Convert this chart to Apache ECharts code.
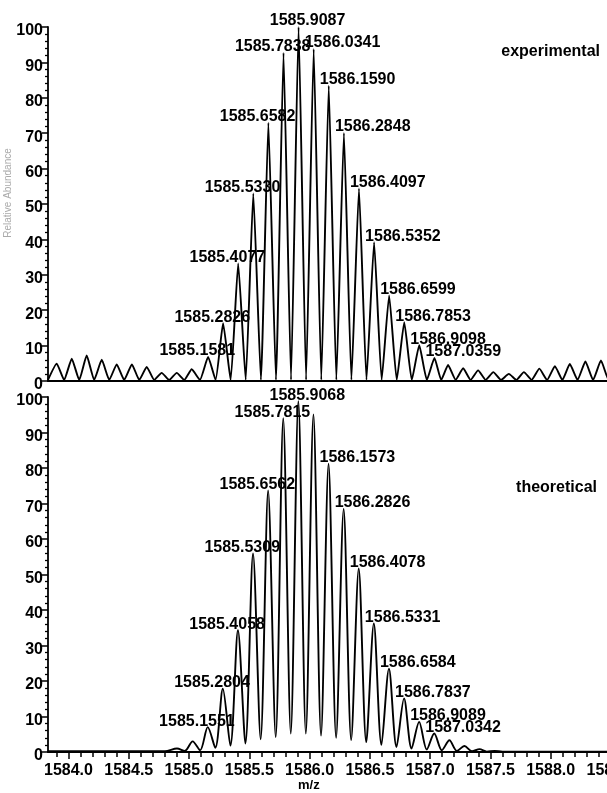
<!DOCTYPE html>
<html><head><meta charset="utf-8">
<script src="https://cdn.jsdelivr.net/npm/echarts@6/dist/echarts.min.js"></script>
<style>html,body{margin:0;padding:0;background:#fff}#c{width:607px;height:793px}</style>
</head><body><div id="c"></div>
<script>
// ---------- data ----------
// experimental profile (m/z, relative intensity), apexes and valleys
const expProfileMz = [
  1583.830, 1583.902, 1583.964, 1584.027, 1584.089, 1584.151, 1584.213, 1584.276, 1584.338, 1584.400,
  1584.462, 1584.526, 1584.587, 1584.649, 1584.711, 1584.773, 1584.835, 1584.898, 1584.960, 1585.022,
  1585.090, 1585.1581, 1585.220, 1585.2826, 1585.345, 1585.4077, 1585.470, 1585.5330, 1585.596, 1585.6582,
  1585.721, 1585.7838, 1585.846, 1585.9087, 1585.971, 1586.0341, 1586.097, 1586.1590, 1586.222, 1586.2848,
  1586.347, 1586.4097, 1586.472, 1586.5352, 1586.598, 1586.6599, 1586.723, 1586.7853, 1586.848, 1586.9098,
  1586.973, 1587.0359, 1587.092, 1587.149, 1587.212, 1587.274, 1587.336, 1587.398, 1587.461, 1587.524,
  1587.588, 1587.653, 1587.716, 1587.778, 1587.842, 1587.906, 1587.970, 1588.035, 1588.097, 1588.159,
  1588.223, 1588.288, 1588.352, 1588.417, 1588.480, 1588.540, 1588.600
];
const expProfileInt = [
  0.3, 4.9, 0.3, 6.3, 0.3, 7.2, 0.3, 6.0, 0.3, 4.7,
  0.3, 4.7, 0.3, 4.0, 0.3, 2.3, 0.3, 2.3, 0.3, 3.3,
  0.3, 6.8, 0.3, 16.3, 0.3, 33.2, 0.3, 53.0, 0.3, 73.0,
  0.3, 92.7, 0.3, 100, 0.3, 93.8, 0.3, 83.4, 0.3, 70.1,
  0.3, 54.4, 0.3, 39.2, 0.3, 24.2, 0.3, 16.6, 0.3, 10.1,
  0.3, 6.5, 0.3, 4.5, 0.3, 3.6, 0.3, 3.0, 0.3, 2.5,
  0.3, 2.0, 0.3, 2.5, 0.3, 3.5, 0.3, 4.2, 0.3, 4.8,
  0.3, 5.5, 0.3, 5.8, 0.3, 5.5, 0.3
];
// labelled experimental peaks
const expPeakMz  = [1585.1581, 1585.2826, 1585.4077, 1585.5330, 1585.6582, 1585.7838, 1585.9087, 1586.0341,
                    1586.1590, 1586.2848, 1586.4097, 1586.5352, 1586.6599, 1586.7853, 1586.9098, 1587.0359];
const expPeakInt = [6.8, 16.3, 33.2, 53.0, 73.0, 92.7, 100, 93.8, 83.4, 70.1, 54.4, 39.2, 24.2, 16.6, 10.1, 6.5];

// theoretical profile
const theoProfileMz = [
  1583.830, 1584.800, 1584.900, 1584.965, 1585.030, 1585.092, 1585.1551, 1585.218, 1585.2804, 1585.343,
  1585.4058, 1585.468, 1585.5309, 1585.594, 1585.6562, 1585.719, 1585.7815, 1585.844, 1585.9068, 1585.969,
  1586.0320, 1586.095, 1586.1573, 1586.220, 1586.2826, 1586.345, 1586.4078, 1586.470, 1586.5331, 1586.596,
  1586.6584, 1586.721, 1586.7837, 1586.846, 1586.9089, 1586.972, 1587.0342, 1587.097, 1587.160, 1587.222,
  1587.285, 1587.347, 1587.410, 1587.470, 1587.535, 1587.600, 1588.600
];
const theoProfileInt = [
  0.2, 0.2, 1.0, 0.3, 3.0, 0.5, 7.0, 1.2, 17.8, 1.8,
  34.3, 2.4, 55.9, 3.6, 73.7, 4.2, 94.0, 5.2, 98.8, 5.2,
  95.1, 4.6, 81.2, 4.0, 68.5, 3.4, 51.7, 2.8, 36.2, 2.0,
  23.5, 1.4, 15.1, 1.0, 8.5, 0.7, 5.2, 0.5, 3.3, 0.3,
  1.7, 0.2, 0.8, 0.1, 0.3, 0.1, 0.1
];
const theoPeakMz  = [1585.1551, 1585.2804, 1585.4058, 1585.5309, 1585.6562, 1585.7815, 1585.9068,
                     1586.1573, 1586.2826, 1586.4078, 1586.5331, 1586.6584, 1586.7837, 1586.9089, 1587.0342];
const theoPeakInt = [7.0, 17.8, 34.3, 55.9, 73.7, 94.0, 98.8, 81.2, 68.5, 51.7, 36.2, 23.5, 15.1, 8.5, 5.2];

// axis ticks / labels
const xLabelValues = [1584.0, 1584.5, 1585.0, 1585.5, 1586.0, 1586.5, 1587.0, 1587.5, 1588.0, 1588.5];
const xMinorValues = [1583.9, 1584.1, 1584.2, 1584.3, 1584.4, 1584.6, 1584.7, 1584.8, 1584.9, 1585.1,
                      1585.2, 1585.3, 1585.4, 1585.6, 1585.7, 1585.8, 1585.9, 1586.1, 1586.2, 1586.3,
                      1586.4, 1586.6, 1586.7, 1586.8, 1586.9, 1587.1, 1587.2, 1587.3, 1587.4, 1587.6,
                      1587.7, 1587.8, 1587.9, 1588.1, 1588.2, 1588.3, 1588.4, 1588.6];
const panelNames = ['experimental', 'theoretical'];
const xAxisTitle = 'm/z';
const yAxisTitle = 'Relative Abundance';

// ---------- chart ----------
const FONT = 'Liberation Sans, Arial, sans-serif';
const X_MIN = 1583.83, X_MAX = 1588.6;
const zip = (a, b) => a.map((v, i) => [v, b[i]]);

function peakLabels(mz, inten) {
  let maxI = 0;
  inten.forEach((v, i) => { if (v > inten[maxI]) maxI = i; });
  return mz.map((m, i) => {
    let align = 'center', off = [9, 2];
    if (i < maxI) { align = 'right'; off = [27, 2]; }
    else if (i > maxI) { align = 'left'; off = [-9, 2]; }
    return { value: [m, inten[i]], label: { align: align, offset: off } };
  });
}

const yAxisCommon = {
  type: 'value', min: 0, max: 100, interval: 10,
  axisLine: { show: true, lineStyle: { color: '#000', width: 1.8 } },
  axisTick: { show: true, length: 6, lineStyle: { color: '#000', width: 1.5 } },
  minorTick: { show: true, splitNumber: 5, length: 3, lineStyle: { color: '#000', width: 1.3 } },
  splitLine: { show: false },
  axisLabel: { color: '#000', fontFamily: FONT, fontSize: 16, fontWeight: 'bold', margin: 5,
               verticalAlign: 'top', lineHeight: 8 }
};

const labelStyle = { show: true, position: 'top', distance: 0, color: '#000', opacity: 1, fontFamily: FONT,
                     fontSize: 16, fontWeight: 'bold', formatter: p => p.value[0].toFixed(4) };

const chart = echarts.init(document.getElementById('c'), null, { renderer: 'canvas' });
chart.setOption({
  backgroundColor: '#fff',
  animation: false,
  grid: [
    { left: 48, top: 27, height: 354, right: -16, outerBoundsMode: 'none', containLabel: false },
    { left: 48, top: 397, height: 355, right: -16, outerBoundsMode: 'none', containLabel: false }
  ],
  xAxis: [
    { type: 'value', gridIndex: 0, min: X_MIN, max: X_MAX,
      axisLine: { show: true, lineStyle: { color: '#000', width: 1.8 } },
      axisTick: { show: false }, axisLabel: { show: false }, splitLine: { show: false } },
    { type: 'value', gridIndex: 1, min: X_MIN, max: X_MAX,
      axisLine: { show: true, onZero: false, lineStyle: { color: '#000', width: 1.8 } },
      axisTick: { show: true, length: 7, customValues: xLabelValues, lineStyle: { color: '#000', width: 1.5 } },
      axisLabel: { show: true, customValues: xLabelValues, formatter: v => v.toFixed(1), color: '#000',
                   fontFamily: FONT, fontSize: 16, fontWeight: 'bold', margin: 11, hideOverlap: false },
      splitLine: { show: false } },
    { type: 'value', gridIndex: 1, min: X_MIN, max: X_MAX, position: 'bottom',
      axisLine: { show: false },
      axisTick: { show: true, length: 5, customValues: xMinorValues, lineStyle: { color: '#000', width: 1.5 } },
      axisLabel: { show: false }, splitLine: { show: false } }
  ],
  yAxis: [
    Object.assign({ gridIndex: 0 }, yAxisCommon),
    Object.assign({ gridIndex: 1 }, yAxisCommon)
  ],
  title: [
    { text: panelNames[0], right: 7, top: 44, padding: 0, textStyle: { fontFamily: FONT, fontSize: 16, fontWeight: 'bold', color: '#000' } },
    { text: panelNames[1], right: 10, top: 480, padding: 0, textStyle: { fontFamily: FONT, fontSize: 16, fontWeight: 'bold', color: '#000' } },
    { text: xAxisTitle, left: 298, top: 779, padding: 0, textStyle: { fontFamily: FONT, fontSize: 13, fontWeight: 'bold', color: '#000' } }
  ],
  graphic: [
    { type: 'text', x: 8, y: 193, rotation: Math.PI / 2,
      style: { text: yAxisTitle, fontFamily: FONT, fontSize: 10, fill: '#aaa', align: 'center', verticalAlign: 'middle' } }
  ],
  series: [
    { type: 'line', xAxisIndex: 0, yAxisIndex: 0, data: zip(expProfileMz, expProfileInt),
      symbol: 'none', smooth: 0.15, lineStyle: { color: '#000', width: 1.9 }, z: 3 },
    { type: 'scatter', xAxisIndex: 0, yAxisIndex: 0, data: peakLabels(expPeakMz, expPeakInt),
      symbolSize: 0, itemStyle: { opacity: 1, color: '#000' }, label: labelStyle, z: 4 },
    { type: 'line', xAxisIndex: 1, yAxisIndex: 1, data: zip(theoProfileMz, theoProfileInt),
      symbol: 'none', smooth: 0.3, lineStyle: { color: '#000', width: 1.9 }, z: 3 },
    { type: 'scatter', xAxisIndex: 1, yAxisIndex: 1, data: peakLabels(theoPeakMz, theoPeakInt),
      symbolSize: 0, itemStyle: { opacity: 1, color: '#000' }, label: labelStyle, z: 4 }
  ]
});
</script>
</body></html>
